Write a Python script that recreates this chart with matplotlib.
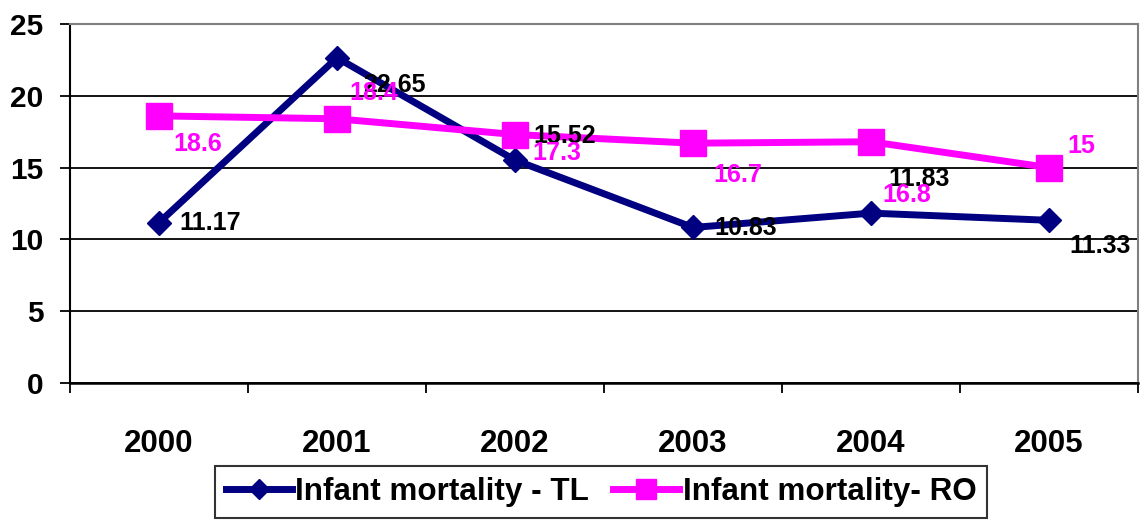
import numpy as np
import matplotlib.pyplot as plt
from matplotlib.ticker import FixedLocator

# Data
years = ['2000', '2001', '2002', '2003', '2004', '2005']
tl_values = [11.17, 22.65, 15.52, 10.83, 11.83, 11.33]
ro_values = [18.6, 18.4, 17.3, 16.7, 16.8, 15]
tl_name = 'Infant mortality - TL'
ro_name = 'Infant mortality- RO'

# label offsets (pixels) relative to each marker
tl_offsets = [(20, 0), (26, -27), (18, 24), (21, -1), (17, 34), (20, -26)]
ro_offsets = [(14, -28), (12, 26), (17, -18), (20, -32), (11, -53), (18, 22)]

navy = '#000080'
pink = '#FF00FF'
plt.rcParams['font.family'] = ['Liberation Sans', 'DejaVu Sans']
plt.rcParams['font.weight'] = 'bold'

fig = plt.figure(figsize=(11.48, 5.28), dpi=100)
ax = fig.add_axes([70 / 1148, 145 / 528, 1068 / 1148, 359 / 528])

x = np.arange(len(years))
ax.plot(x, tl_values, color=navy, lw=5, marker='D', ms=12.5,
        label=tl_name, zorder=3)
ax.plot(x, ro_values, color=pink, lw=5, marker='s', ms=18.5,
        label=ro_name, zorder=3)

for i in range(len(years)):
    ax.annotate(f'{tl_values[i]:g}', (x[i], tl_values[i]), xytext=tl_offsets[i],
                textcoords='offset pixels', ha='left', va='center',
                fontsize=18, fontweight='bold', color='black', zorder=4)
    ax.annotate(f'{ro_values[i]:g}', (x[i], ro_values[i]), xytext=ro_offsets[i],
                textcoords='offset pixels', ha='left', va='center',
                fontsize=18, fontweight='bold', color=pink, zorder=4)

ax.set_xlim(-0.5, len(years) - 0.5)
ax.set_ylim(0, 25)
ax.set_yticks(np.arange(0, 26, 5))
ax.yaxis.grid(True, color='black', lw=1.3)
ax.set_axisbelow(True)

ax.set_xticks(x)
ax.set_xticklabels(years)
ax.xaxis.set_minor_locator(FixedLocator(np.arange(-0.5, len(years), 1.0)))
ax.tick_params(axis='x', which='major', length=0, pad=33, labelsize=22.5)
ax.tick_params(axis='x', which='minor', length=7, width=1.3, direction='out')
ax.tick_params(axis='y', length=7, width=1.3, direction='out', pad=12, labelsize=21.5)
for lab in ax.get_xticklabels() + ax.get_yticklabels():
    lab.set_fontweight('bold')

ax.spines['left'].set_linewidth(1.5)
ax.spines['bottom'].set_linewidth(1.8)
ax.spines['top'].set_color('#808080')
ax.spines['right'].set_color('#808080')
ax.spines['top'].set_linewidth(1.5)
ax.spines['right'].set_linewidth(1.5)

leg = fig.legend(loc='center', bbox_to_anchor=(601 / 1148, 36 / 528), ncol=2,
                 fontsize=22.6, frameon=True, fancybox=False, edgecolor='black',
                 handlelength=2.1, handletextpad=0.12, columnspacing=0.75,
                 borderpad=0.35, markerscale=0.8)
leg.get_frame().set_linewidth(1.5)
for t in leg.get_texts():
    t.set_fontweight('bold')

fig.savefig('out.png', dpi=100)
